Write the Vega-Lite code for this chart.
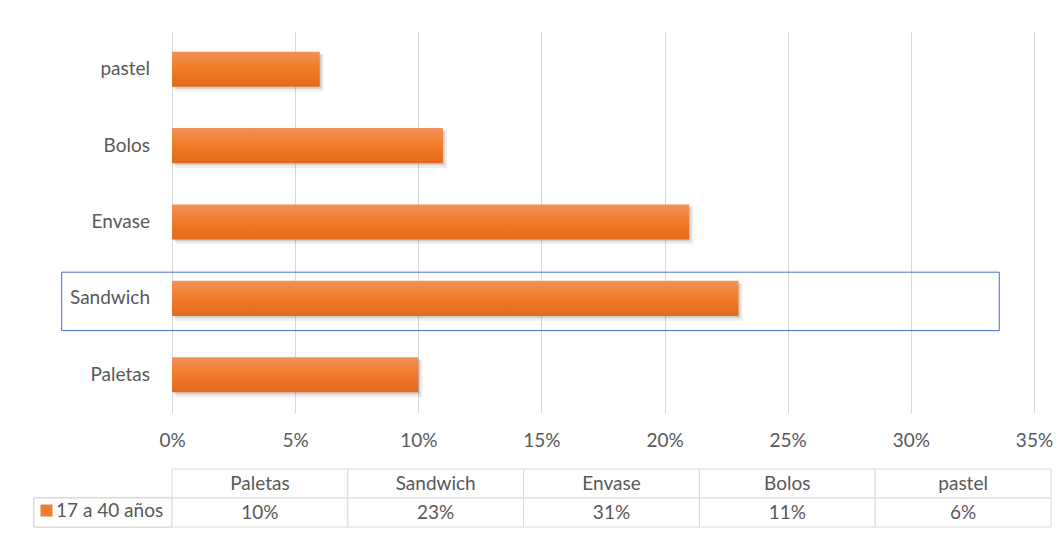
{
  "$schema": "https://vega.github.io/schema/vega-lite/v6.json",
  "padding": {"left": 33, "top": 31, "right": 5, "bottom": 5},
  "background": "white",
  "config": {
    "view": {"stroke": null},
    "font": "Lato",
    "text": {"font": "Lato", "fontSize": 19, "color": "#595959"}
  },
  "datasets": {
    "tabla": [
      {"cat": "Paletas", "barra": 0.10, "tabla": 0.10, "serie": "17 a 40 años"},
      {"cat": "Sandwich", "barra": 0.23, "tabla": 0.23, "serie": "17 a 40 años"},
      {"cat": "Envase", "barra": 0.21, "tabla": 0.31, "serie": "17 a 40 años"},
      {"cat": "Bolos", "barra": 0.11, "tabla": 0.11, "serie": "17 a 40 años"},
      {"cat": "pastel", "barra": 0.06, "tabla": 0.06, "serie": "17 a 40 años"}
    ]
  },
  "columns": 2,
  "spacing": {"row": 56, "column": 0},
  "bounds": "flush",
  "resolve": {
    "scale": {"x": "independent", "y": "independent", "color": "independent"},
    "legend": {"color": "independent"}
  },
  "concat": [
    {
      "width": 138,
      "height": 382,
      "data": {"name": "tabla"},
      "mark": {"type": "text", "align": "right", "baseline": "middle", "dx": -22, "fontSize": 19, "color": "#595959"},
      "encoding": {
        "y": {"field": "cat", "type": "nominal", "axis": null,
              "scale": {"domain": ["pastel", "Bolos", "Envase", "Sandwich", "Paletas"], "paddingInner": 0, "paddingOuter": 0}},
        "x": {"value": "width"},
        "text": {"field": "cat"}
      }
    },
    {
      "width": 862,
      "height": 382,
      "data": {"name": "tabla"},
      "encoding": {
        "y": {"field": "cat", "type": "nominal", "axis": null,
              "scale": {"domain": ["pastel", "Bolos", "Envase", "Sandwich", "Paletas"], "paddingInner": 0, "paddingOuter": 0}}
      },
      "layer": [
        {
          "mark": {"type": "bar", "orient": "horizontal", "height": {"band": 0.48}, "color": "#000000", "opacity": 0.07, "xOffset": 4, "x2Offset": 4, "yOffset": 4},
          "encoding": {
            "x": {"field": "barra", "type": "quantitative",
                  "scale": {"domain": [0, 0.35], "nice": false},
                  "axis": {"format": ".0%", "values": [0, 0.05, 0.1, 0.15, 0.2, 0.25, 0.3, 0.35],
                           "domain": false, "ticks": false, "tickSize": 0, "labelPadding": 18, "labelFlush": false,
                           "labelFont": "Lato", "labelFontSize": 19, "labelColor": "#595959",
                           "grid": true, "gridColor": "#D9D9D9", "gridWidth": 1, "title": null}}
          }
        },
        {
          "mark": {"type": "bar", "orient": "horizontal", "height": {"band": 0.46}, "color": "#000000", "opacity": 0.12, "xOffset": 2, "x2Offset": 2, "yOffset": 2},
          "encoding": {"x": {"field": "barra", "type": "quantitative"}}
        },
        {
          "mark": {"type": "bar", "orient": "horizontal", "height": {"band": 0.46},
                   "color": {"gradient": "linear", "x1": 0, "y1": 0, "x2": 0, "y2": 1,
                             "stops": [{"offset": 0, "color": "#F0915A"}, {"offset": 0.45, "color": "#F27D2B"}, {"offset": 1, "color": "#E2691A"}]}},
          "encoding": {"x": {"field": "barra", "type": "quantitative"}}
        },
        {
          "data": {"values": [{"sel": "Sandwich"}]},
          "mark": {"type": "bar", "orient": "horizontal", "height": {"band": 0.765}, "filled": false, "stroke": "#4472C4", "strokeWidth": 1, "yOffset": 3},
          "encoding": {
            "y": {"field": "sel", "type": "nominal"},
            "x": {"datum": -0.0448, "type": "quantitative"},
            "x2": {"datum": 0.3359}
          }
        }
      ]
    },
    {
      "width": 138,
      "height": 58,
      "data": {"name": "tabla"},
      "encoding": {
        "y": {"datum": "17 a 40 años", "type": "nominal", "axis": null,
              "scale": {"domain": ["Categoría", "17 a 40 años"], "paddingInner": 0, "paddingOuter": 0}}
      },
      "layer": [
        {
          "mark": {"type": "rect", "fill": "white", "stroke": "#D9D9D9", "strokeWidth": 1}
        },
        {
          "mark": {"type": "square", "opacity": 0, "size": 0},
          "encoding": {
            "color": {"field": "serie", "type": "nominal", "scale": {"range": ["#ED7D31"]},
                      "legend": {"orient": "none", "legendX": 3, "legendY": 32, "title": null,
                                 "symbolType": "square", "symbolSize": 144, "symbolStrokeWidth": 0,
                                 "labelFont": "Lato", "labelFontSize": 19, "labelColor": "#595959", "labelOffset": 0}}
          }
        }
      ]
    },
    {
      "width": 879,
      "height": 58,
      "data": {"name": "tabla"},
      "encoding": {
        "x": {"field": "cat", "type": "nominal", "axis": null,
              "scale": {"domain": ["Paletas", "Sandwich", "Envase", "Bolos", "pastel"], "paddingInner": 0, "paddingOuter": 0}}
      },
      "layer": [
        {
          "mark": {"type": "rect", "fill": "white", "stroke": "#D9D9D9", "strokeWidth": 1},
          "encoding": {"y": {"datum": "Categoría", "type": "nominal", "axis": null,
                             "scale": {"domain": ["Categoría", "17 a 40 años"], "paddingInner": 0, "paddingOuter": 0}}}
        },
        {
          "mark": {"type": "rect", "fill": "white", "stroke": "#D9D9D9", "strokeWidth": 1},
          "encoding": {"y": {"datum": "17 a 40 años", "type": "nominal"}}
        },
        {
          "mark": {"type": "text", "baseline": "middle"},
          "encoding": {"y": {"datum": "Categoría", "type": "nominal"}, "text": {"field": "cat"}}
        },
        {
          "mark": {"type": "text", "baseline": "middle"},
          "encoding": {"y": {"datum": "17 a 40 años", "type": "nominal"}, "text": {"field": "tabla", "format": ".0%"}}
        }
      ]
    }
  ]
}
